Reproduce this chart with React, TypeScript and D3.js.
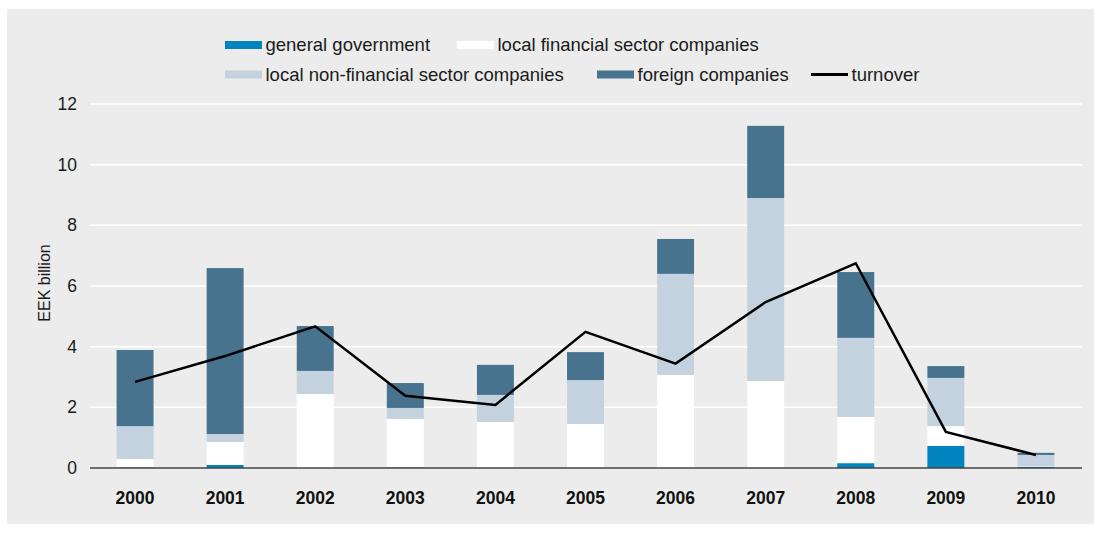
import * as d3 from "d3";
import { useEffect, useRef } from "react";

const years = ["2000", "2001", "2002", "2003", "2004", "2005", "2006", "2007", "2008", "2009", "2010"];
const generalGovernment = [0.02, 0.1, 0, 0.02, 0, 0, 0, 0, 0.16, 0.73, 0.04];
const localFinancial = [0.28, 0.76, 2.44, 1.6, 1.52, 1.45, 3.07, 2.87, 1.52, 0.65, 0.02];
const localNonFinancial = [1.08, 0.26, 0.76, 0.36, 0.89, 1.45, 3.33, 6.03, 2.61, 1.59, 0.37];
const foreignCompanies = [2.51, 5.47, 1.48, 0.82, 0.99, 0.92, 1.15, 2.38, 2.17, 0.39, 0.07];
const turnover = [2.84, 3.69, 4.67, 2.38, 2.08, 4.49, 3.44, 5.47, 6.75, 1.19, 0.43];
const yTicks = [0, 2, 4, 6, 8, 10, 12];

const seriesKeys = ["gov", "fin", "nonfin", "foreign"];
const seriesLabels = [
  "general government",
  "local financial sector companies",
  "local non-financial sector companies",
  "foreign companies",
];
const colors = ["#0083bf", "#ffffff", "#c4d2df", "#47738f"];

export default function App() {
  const ref = useRef(null);
  const width = 1094;
  const height = 533;

  useEffect(() => {
    draw();
  });

  function draw() {
    const svg = d3.select(ref.current);
    // clean the slate
    svg.selectAll("*").remove();
    svg.style("font-family", "'Liberation Sans', Arial, sans-serif");

    // grey panel
    svg
      .append("rect")
      .attr("x", 7)
      .attr("y", 9)
      .attr("width", width - 7)
      .attr("height", 515)
      .attr("fill", "#ebeceb");

    const x = d3.scaleBand().domain(years).range([90, 1081]).paddingInner(0.59).paddingOuter(0.295);
    const y = d3.scaleLinear().domain([0, 12]).range([468, 104]);

    // gridlines
    svg
      .append("g")
      .selectAll("line")
      .data(yTicks.filter((t) => t > 0))
      .enter()
      .append("line")
      .attr("x1", 90)
      .attr("x2", 1082)
      .attr("y1", (d) => y(d))
      .attr("y2", (d) => y(d))
      .attr("stroke", "#ffffff")
      .attr("stroke-width", 1.5);

    // y tick labels
    svg
      .append("g")
      .selectAll("text")
      .data(yTicks)
      .enter()
      .append("text")
      .attr("x", 77)
      .attr("y", (d) => y(d))
      .attr("dy", "0.35em")
      .attr("text-anchor", "end")
      .attr("font-size", 17.5)
      .attr("fill", "#1a1a1a")
      .text((d) => d);

    // y axis label
    svg
      .append("text")
      .attr("transform", "rotate(-90)")
      .attr("x", -283)
      .attr("y", 50)
      .attr("text-anchor", "middle")
      .attr("font-size", 16)
      .attr("fill", "#1a1a1a")
      .text("EEK billion");

    // stacked bars
    const rows = years.map((yr, i) => ({
      year: yr,
      gov: generalGovernment[i],
      fin: localFinancial[i],
      nonfin: localNonFinancial[i],
      foreign: foreignCompanies[i],
    }));
    const stacked = d3.stack().keys(seriesKeys)(rows as any);

    svg
      .append("g")
      .selectAll("g")
      .data(stacked)
      .enter()
      .append("g")
      .attr("fill", (_, i) => colors[i])
      .selectAll("rect")
      .data((d) => d)
      .enter()
      .append("rect")
      .attr("x", (d: any) => x(d.data.year))
      .attr("width", x.bandwidth())
      .attr("y", (d) => y(d[1]))
      .attr("height", (d) => y(d[0]) - y(d[1]));

    // x axis line
    svg
      .append("line")
      .attr("x1", 90)
      .attr("x2", 1082)
      .attr("y1", y(0))
      .attr("y2", y(0))
      .attr("stroke", "#444444")
      .attr("stroke-width", 1.5);

    // x labels
    svg
      .append("g")
      .selectAll("text")
      .data(years)
      .enter()
      .append("text")
      .attr("x", (d) => x(d) + x.bandwidth() / 2)
      .attr("y", 504)
      .attr("text-anchor", "middle")
      .attr("font-size", 17.5)
      .attr("font-weight", 700)
      .attr("fill", "#111111")
      .text((d) => d);

    // turnover line
    svg
      .append("path")
      .datum(turnover)
      .attr("fill", "none")
      .attr("stroke", "#000000")
      .attr("stroke-width", 2.5)
      .attr(
        "d",
        d3
          .line<number>()
          .x((_, i) => x(years[i]) + x.bandwidth() / 2)
          .y((d) => y(d))
      );

    // legend
    const legendItems = [
      { label: seriesLabels[0], color: colors[0], lx: 225, ly: 45, line: false },
      { label: seriesLabels[1], color: colors[1], lx: 457, ly: 45, line: false },
      { label: seriesLabels[2], color: colors[2], lx: 225, ly: 74.5, line: false },
      { label: seriesLabels[3], color: colors[3], lx: 597, ly: 74.5, line: false },
      { label: "turnover", color: "#000000", lx: 811, ly: 74.5, line: true },
    ];
    const legend = svg.append("g");
    legendItems.forEach((item) => {
      legend
        .append("rect")
        .attr("x", item.lx)
        .attr("y", item.line ? item.ly - 1.5 : item.ly - 4)
        .attr("width", 37)
        .attr("height", item.line ? 3 : 8)
        .attr("fill", item.color);
      legend
        .append("text")
        .attr("x", item.lx + 40.5)
        .attr("y", item.ly)
        .attr("dy", "0.35em")
        .attr("font-size", 18.5)
        .attr("fill", "#1a1a1a")
        .text(item.label);
    });
  }

  return <svg width={width} height={height} ref={ref} style={{ position: "absolute", left: 0, top: 0 }}></svg>;
}
